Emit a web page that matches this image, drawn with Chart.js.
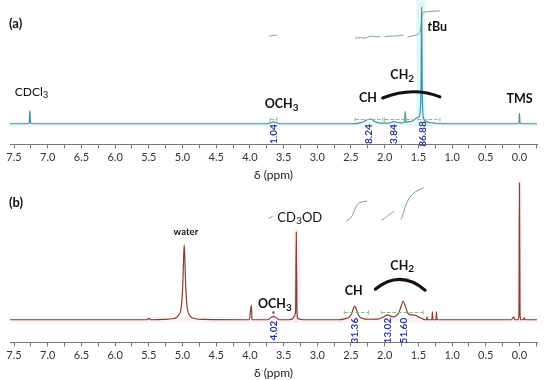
<!DOCTYPE html>
<html>
<head>
<meta charset="utf-8">
<script src="https://cdn.jsdelivr.net/npm/chart.js@4.4.0/dist/chart.umd.min.js"></script>
<style>
  body { margin: 0; background: #fff; width: 550px; height: 380px; overflow: hidden; }
  .panel { position: absolute; left: 0; width: 550px; }
  #wrapA { top: 0; height: 182px; }
  #wrapB { top: 180px; height: 200px; }
</style>
</head>
<body>
<div class="panel" id="wrapA"><canvas id="specA"></canvas></div>
<div class="panel" id="wrapB"><canvas id="specB"></canvas></div>
<script>
// shift axis, ppm
const tickPpm  = [7.5, 7.25, 7.0, 6.75, 6.5, 6.25, 6.0, 5.75, 5.5, 5.25, 5.0, 4.75, 4.5, 4.25, 4.0, 3.75,
                  3.5, 3.25, 3.0, 2.75, 2.5, 2.25, 2.0, 1.75, 1.5, 1.25, 1.0, 0.75, 0.5, 0.25, 0.0, -0.25];
const tickText = ['7.5', '', '7.0', '', '6.5', '', '6.0', '', '5.5', '', '5.0', '', '4.5', '', '4.0', '',
                  '3.5', '', '3.0', '', '2.5', '', '2.0', '', '1.5', '', '1.0', '', '0.5', '', '0.0', ''];

// (a) spectrum in CDCl3
const ppmA = [7.56, 7.31, 7.275, 7.265, 7.255, 7.22,
  3.75, 3.68, 3.65, 3.62, 3.55,
  2.50, 2.38, 2.30, 2.25, 2.22, 2.19, 2.13, 2.05,
  1.95, 1.89, 1.86, 1.82, 1.75, 1.705, 1.695, 1.685, 1.64, 1.58, 1.53, 1.51, 1.49, 1.47, 1.46, 1.452, 1.444, 1.435,
  1.42, 1.39, 1.34, 1.25, 1.10,
  0.03, 0.008, 0.0, -0.008, -0.03, -0.26];
const intA = [0, 0, 0.8, 13, 0.8, 0,
  0, 1.2, 1.8, 1.2, 0,
  0, 0.6, 2.5, 4.2, 4.6, 4.2, 1.6, 0.6,
  0.6, 1.5, 2.2, 1.2, 0.9, 1.2, 12, 1.4, 2.0, 3.0, 5.5, 6, 7, 15, 40, 113, 40, 12,
  5, 2.5, 1.2, 0.5, 0,
  0, 0.8, 10, 0.8, 0, 0];

// (a) integral trace (null = break)
const intCurvePpmA = [3.72, 3.66, 3.60, 0,
  2.44, 2.36, 2.30, 2.25, 2.20, 2.14, 2.07, 0,
  2.00, 1.92, 1.85, 1.78, 1.72, 0,
  1.66, 1.60, 1.54, 1.49, 1.47, 1.455, 1.445, 1.43, 1.38, 1.30, 1.18];
const intCurveValA = [85, 85.5, 86, null,
  83, 83.5, 83, 84, 85, 84.5, 84.5, null,
  84.5, 85, 85, 85.5, 86, null,
  84, 85, 86, 87.5, 91, 100, 106, 108, 108.5, 109, 109.5];

const integralPpmA = [3.65, 2.23, 1.86, 1.43];
const integralValA = ['1.04', '8.24', '3.84', '86.88'];

// (b) spectrum in CD3OD
const ppmB = [7.56, 5.53, 5.50, 5.47,
  5.28, 5.13, 5.06, 5.015, 4.995, 4.985, 4.975, 4.965, 4.955, 4.935, 4.895, 4.825, 4.68,
  4.01, 3.978, 3.97, 3.962, 3.93,
  3.74, 3.68, 3.65, 3.62, 3.56,
  3.42, 3.36, 3.335, 3.322, 3.312, 3.302, 3.29, 3.26, 3.20,
  2.68, 2.58, 2.52, 2.485, 2.465, 2.445, 2.425, 2.405, 2.37, 2.32, 2.22,
  2.10, 2.03, 1.98, 1.95, 1.92, 1.88, 1.84, 1.79, 1.755, 1.725, 1.695, 1.66, 1.62, 1.57, 1.53, 1.49, 1.44, 1.40,
  1.38, 1.372, 1.364, 1.30, 1.292, 1.284, 1.24, 1.232, 1.224, 1.18,
  0.12, 0.085, 0.07, 0.02, 0.008, 0.0, -0.008, -0.02, -0.06, -0.07, -0.085, -0.26];
const intB = [0, 0, 1.5, 0,
  0.3, 1.3, 4.5, 15, 38, 61, 76, 61, 38, 15, 4.5, 1.3, 0.3,
  0, 15, 0.5, 0, 0,
  0, 2.5, 3.5, 2.5, 0,
  0, 1.5, 4.5, 10, 89, 8, 1.5, 0.5, 0,
  0, 1.2, 3, 7, 11.5, 14, 11.5, 7, 3, 1.2, 0.5,
  0.6, 2.5, 4.5, 5, 4, 3, 3.5, 7, 14, 19, 14, 7, 5, 5, 4, 2.5, 1, 0,
  0, 3, 0, 0, 8, 0, 0, 8, 0, 0,
  0, 3, 0, 0, 6, 139, 6, 0, 0, 2, 0, 0];

const intCurvePpmB = [3.73, 3.69, 3.66, 0,
  2.57, 2.52, 2.48, 2.45, 2.42, 2.38, 2.32, 2.26, 0,
  2.05, 2.00, 1.95, 1.90, 1.86, 0,
  1.76, 1.74, 1.72, 1.70, 1.67, 1.63, 1.58, 1.52, 1.46, 1.42];
const intCurveValB = [103, 104, 105.5, null,
  101, 102.5, 106, 111, 115.5, 118.5, 120, 120.5, null,
  101, 103, 106, 108.5, 110, null,
  102, 104.5, 109, 114, 119, 124, 128, 131, 133, 134];

const integralPpmB = [3.65, 2.44, 1.95, 1.71];
const integralValB = ['4.02', '31.36', '13.02', '51.60'];

const FONT = 'Lato';

function drawChem(ctx, text, cx, cy, size, bold) {
  // "_x" marks a subscript char
  const parts = [];
  for (let i = 0; i < text.length; i++) {
    if (text[i] === '_') { parts.push([text[i + 1], true]); i++; }
    else parts.push([text[i], false]);
  }
  const w = (p) => {
    ctx.font = (bold ? 'bold ' : '') + (p[1] ? size * 0.8 : size) + 'px ' + FONT;
    return ctx.measureText(p[0]).width;
  };
  let total = parts.reduce((s, p) => s + w(p), 0);
  let x = cx - total / 2;
  ctx.textBaseline = 'middle';
  ctx.textAlign = 'left';
  parts.forEach(p => {
    const pw = w(p);
    ctx.fillText(p[0], x, p[1] ? cy + size * 0.28 : cy);
    x += pw;
  });
}

function notesPlugin(n) {
  return {
    id: 'notes',
    beforeDatasetsDraw(chart) {
      const { ctx, scales: { x, y } } = chart;
      ctx.save();
      n.bands.forEach(b => {
        const x0 = x.getPixelForValue(b[0]), x1 = x.getPixelForValue(b[1]);
        const y0 = y.getPixelForValue(b[2]), y1 = y.getPixelForValue(b[3]);
        ctx.fillStyle = b[4];
        ctx.fillRect(Math.min(x0, x1), Math.min(y0, y1), Math.abs(x1 - x0), Math.abs(y1 - y0));
      });
      ctx.restore();
    },
    afterDatasetsDraw(chart) {
      const { ctx, scales: { x, y } } = chart;
      ctx.save();
      // integral range brackets
      ctx.strokeStyle = '#8cbf94';
      ctx.lineWidth = 1;
      ctx.setLineDash([4, 1.5]);
      n.brackets.forEach(b => {
        const x0 = x.getPixelForValue(b[0]), x1 = x.getPixelForValue(b[1]);
        const yy = Math.round(y.getPixelForValue(n.bracketLevel)) + 0.5;
        ctx.beginPath();
        ctx.moveTo(x0, yy); ctx.lineTo(x1, yy);
        ctx.stroke();
      });
      ctx.setLineDash([]);
      n.brackets.forEach(b => {
        const x0 = x.getPixelForValue(b[0]), x1 = x.getPixelForValue(b[1]);
        const yy = Math.round(y.getPixelForValue(n.bracketLevel)) + 0.5;
        ctx.beginPath();
        ctx.moveTo(x0, yy - 2); ctx.lineTo(x0, yy + 2);
        ctx.moveTo(x1, yy - 2); ctx.lineTo(x1, yy + 2);
        ctx.stroke();
      });
      // integral values
      ctx.fillStyle = '#2a3590';
      ctx.font = 'bold 10px ' + FONT;
      ctx.textAlign = 'center';
      ctx.textBaseline = 'middle';
      n.intPpm.forEach((p, i) => {
        ctx.save();
        ctx.translate(x.getPixelForValue(p), y.getPixelForValue(n.intLevel));
        ctx.rotate(-Math.PI / 2);
        ctx.fillText(n.intVal[i], 0, 0);
        ctx.restore();
      });
      // arcs over CH2
      ctx.strokeStyle = '#111';
      ctx.lineWidth = 3;
      ctx.lineCap = 'round';
      n.arcs.forEach(a => {
        const x0 = x.getPixelForValue(a[0]), x1 = x.getPixelForValue(a[1]), xm = x.getPixelForValue(a[2]);
        const ye0 = y.getPixelForValue(a[3]), ye1 = y.getPixelForValue(a[5]), yp = y.getPixelForValue(a[4]);
        ctx.beginPath();
        ctx.moveTo(x0, ye0);
        ctx.quadraticCurveTo(xm, 2 * yp - (ye0 + ye1) / 2, x1, ye1);
        ctx.stroke();
      });
      // text labels
      ctx.fillStyle = '#111';
      n.labels.forEach(l => {
        const px = x.getPixelForValue(l[1]), py = y.getPixelForValue(l[2]);
        if (l[0] === 'tBu') {
          ctx.textBaseline = 'middle';
          ctx.textAlign = 'left';
          ctx.font = 'italic bold ' + l[3] + 'px ' + FONT;
          const tw = ctx.measureText('t').width;
          ctx.font = 'bold ' + l[3] + 'px ' + FONT;
          const bw = ctx.measureText('Bu').width;
          const sx = px - (tw + bw) / 2;
          ctx.font = 'italic bold ' + l[3] + 'px ' + FONT;
          ctx.fillText('t', sx, py);
          ctx.font = 'bold ' + l[3] + 'px ' + FONT;
          ctx.fillText('Bu', sx + tw, py);
        } else {
          drawChem(ctx, l[0], px, py, l[3], l[4]);
        }
      });
      // panel tag
      ctx.font = 'bold 13px ' + FONT;
      ctx.textAlign = 'left';
      ctx.textBaseline = 'middle';
      ctx.fillText(n.tag, 9, n.tagY);
      ctx.restore();
    }
  };
}

function makeChart(id, ppm, inten, curvePpm, curveVal, lineColor, yMin, yMax, notes) {
  return new Chart(document.getElementById(id), {
    type: 'scatter',
    data: {
      datasets: [
        {
          data: ppm.map((p, i) => ({ x: p, y: inten[i] })),
          showLine: true,
          borderColor: lineColor,
          borderWidth: 1.2,
          pointRadius: 0,
          cubicInterpolationMode: 'monotone'
        },
        {
          data: curvePpm.map((p, i) => ({ x: p, y: curveVal[i] })),
          showLine: true,
          spanGaps: false,
          borderColor: '#6fa879',
          borderWidth: 1,
          pointRadius: 0,
          tension: 0.4
        }
      ]
    },
    options: {
      responsive: true,
      maintainAspectRatio: false,
      animation: false,
      layout: { padding: { left: 10, right: 13, top: 0, bottom: 0 } },
      plugins: { legend: { display: false }, tooltip: { enabled: false } },
      scales: {
        x: {
          type: 'linear',
          reverse: true,
          min: -0.26,
          max: 7.56,
          afterBuildTicks: ax => { ax.ticks = tickPpm.map(v => ({ value: v })); },
          ticks: {
            callback: (v, i) => tickText[i],
            autoSkip: false,
            maxRotation: 0,
            padding: 2,
            color: '#333',
            font: { family: FONT, size: 11 }
          },
          grid: { drawOnChartArea: false, drawTicks: true, tickLength: 4, color: '#777' },
          border: { display: true, color: '#777', width: 1 },
          title: {
            display: true,
            text: 'δ (ppm)',
            color: '#222',
            font: { family: FONT, size: 12 },
            padding: { top: 2, bottom: 0 }
          }
        },
        y: { display: false, min: yMin, max: yMax }
      }
    },
    plugins: [notesPlugin(notes)]
  });
}

makeChart('specA', ppmA, intA, intCurvePpmA, intCurveValA, '#3f90a3', -20, 120, {
  tag: '(a)', tagY: 24,
  bands: [[1.53, 1.40, -2, 120, 'rgba(215,243,249,0.7)'], [7.56, -0.26, -2.5, 2.5, 'rgba(220,244,248,0.6)']],
  bracketLevel: 5,
  brackets: [[3.70, 3.60], [2.44, 2.03], [2.00, 1.71], [1.68, 1.18]],
  intLevel: -10, intPpm: integralPpmA, intVal: integralValA,
  arcs: [[2.03, 1.18, 1.58, 25, 31, 26]],
  labels: [
    ['CDCl_3', 7.24, 31, 12, false],
    ['OCH_3', 3.53, 19, 12.5, true],
    ['CH', 2.25, 25, 12.5, true],
    ['CH_2', 1.74, 47, 12.5, true],
    ['tBu', 1.22, 94, 12.5, true],
    ['TMS', 0.0, 24, 12.5, true]
  ]
});

makeChart('specB', ppmB, intB, intCurvePpmB, intCurveValB, '#8c3c2c', -23, 142, {
  tag: '(b)', tagY: 23,
  bands: [[3.345, 3.275, -3, 92, 'rgba(252,228,231,0.6)'], [0.03, -0.03, -3, 142, 'rgba(252,228,231,0.6)'],
          [7.56, -0.26, -3, 3, 'rgba(252,232,234,0.5)']],
  bracketLevel: 8,
  brackets: [[2.60, 2.24], [2.05, 1.43]],
  intLevel: -11, intPpm: integralPpmB, intVal: integralValB,
  arcs: [[2.14, 1.40, 1.77, 31, 41, 30]],
  labels: [
    ['water', 4.95, 89, 9.5, true],
    ['CD_3OD', 3.26, 104, 13, false],
    ['OCH_3', 3.63, 16, 12.5, true],
    ['*', 3.65, 5, 10, false],
    ['CH', 2.46, 29, 12.5, true],
    ['CH_2', 1.74, 55, 12.5, true]
  ]
});
</script>
</body>
</html>
